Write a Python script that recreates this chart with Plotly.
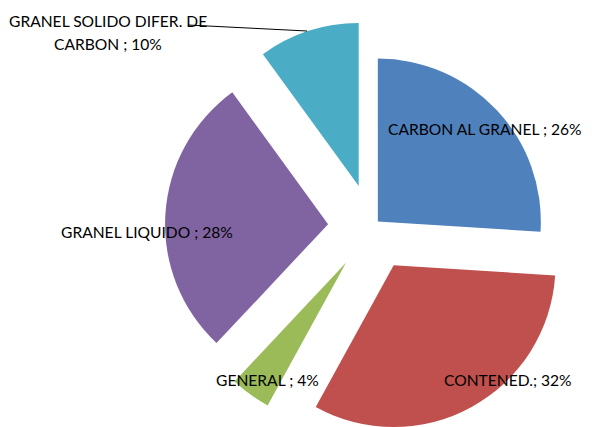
import numpy as np
import plotly.graph_objects as go

# ---- data ----
labels = ["CARBON AL GRANEL", "CONTENED.", "GENERAL", "GRANEL LIQUIDO", "GRANEL SOLIDO DIFER. DE CARBON"]
values = [26, 32, 4, 28, 10]
label_texts = ["CARBON AL GRANEL ; 26%", "CONTENED.; 32%", "GENERAL ; 4%", "GRANEL LIQUIDO ; 28%"]
colors = ["#4F81BD", "#C0504D", "#9BBB59", "#8064A2", "#4BACC6"]

# ---- layout / style ----
OFF = 8                      # page body margin in the browser
W, H = 593 - OFF, 427 - OFF  # figure size
CX, CY = 372 - OFF, 227 - OFF  # pie centre in figure pixels
R = 163                      # radius in pixels
explode_px = [8, 45, 44, 44, 43]   # explosion per slice, pixels
FONT = "Lato"
FS = 15.6

vals = np.array(values, dtype=float)
cum = np.cumsum(vals) - vals / 2
theta = 2 * np.pi * cum / vals.sum()

fig = go.Figure()
for i in range(len(values)):
    vx = CX + explode_px[i] * np.sin(theta[i])
    vy = CY - explode_px[i] * np.cos(theta[i])
    x0 = max(0.0, (vx - R) / W)
    x1 = min(1.0, (vx + R) / W)
    y0 = max(0.0, 1 - (vy + R) / H)
    y1 = min(1.0, 1 - (vy - R) / H)
    cols = ["rgba(0,0,0,0)"] * len(values)
    cols[i] = colors[i]
    fig.add_trace(go.Pie(
        labels=labels, values=values, sort=False, direction="clockwise",
        rotation=0, marker=dict(colors=cols, line=dict(width=0)),
        textinfo="none", hoverinfo="skip", showlegend=False,
        domain=dict(x=[x0, x1], y=[y0, y1]),
    ))


def px(x):
    return (x - OFF) / W


def py(y):
    return 1 - (y - OFF) / H


# (x, y, anchor) in page pixels
ann_pos = [(584, 129, "right"), (508, 380, "center"), (267, 380, "center"), (147, 232, "center")]
annotations = []
for (ax, ay, anc), t in zip(ann_pos, label_texts):
    annotations.append(dict(x=px(ax), y=py(ay), xref="paper", yref="paper",
                            text=t, showarrow=False, xanchor=anc, yanchor="middle",
                            font=dict(family=FONT, size=FS, color="#000000")))
annotations.append(dict(x=px(108), y=py(21), xref="paper", yref="paper",
                        text="GRANEL SOLIDO DIFER. DE", showarrow=False, xanchor="center",
                        yanchor="middle", font=dict(family=FONT, size=FS, color="#000000")))
annotations.append(dict(x=px(108), y=py(44), xref="paper", yref="paper",
                        text="CARBON ; 10%", showarrow=False, xanchor="center",
                        yanchor="middle", font=dict(family=FONT, size=FS, color="#000000")))

fig.update_layout(
    width=W, height=H, margin=dict(l=0, r=0, t=0, b=0),
    paper_bgcolor="white", plot_bgcolor="white",
    annotations=annotations,
    shapes=[dict(type="line", xref="paper", yref="paper",
                 x0=px(188), y0=py(25), x1=px(307), y1=py(31),
                 line=dict(color="#000000", width=1))],
)

fig.write_html("out.html")
